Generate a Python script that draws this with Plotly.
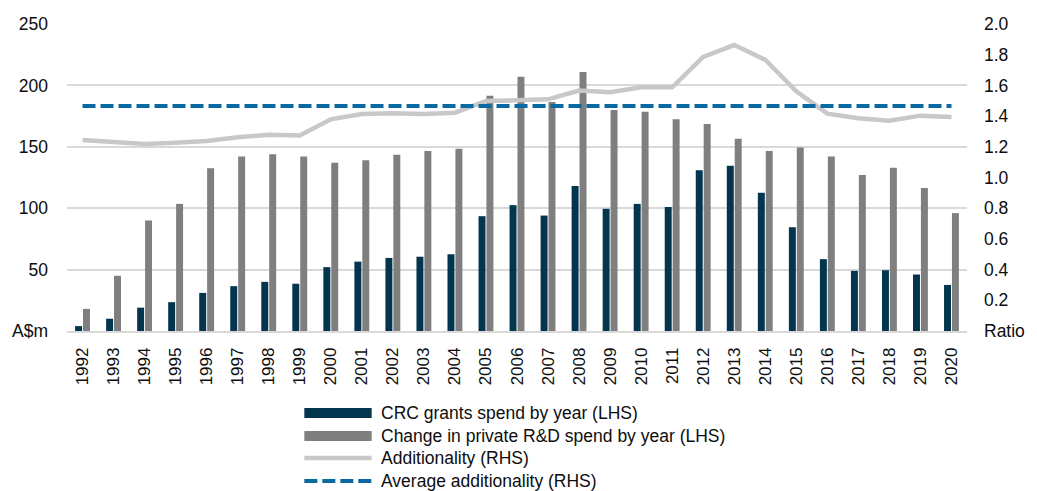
import plotly.graph_objects as go

years = [str(y) for y in range(1992, 2021)]

crc_grants = [4, 10, 19, 23.5, 31, 36.5, 40, 38.5, 52, 56.5, 59.5, 60.5, 62.5, 93.5,
              102.5, 94, 118, 99.5, 103.5, 101, 131, 134.5, 112.5, 84.5, 58.5, 49, 49.5,
              46, 37.5]
private_rd = [18, 45, 90, 103.5, 132.5, 142, 144, 142, 137, 139, 143.5, 146.5, 148.5,
              191.5, 207, 186.5, 211, 180, 178.5, 172.5, 168.5, 156.5, 146.5, 149.5, 142,
              127, 133, 116.5, 96]
additionality = [1.244, 1.231, 1.218, 1.227, 1.238, 1.262, 1.279, 1.273, 1.379, 1.414,
                 1.418, 1.414, 1.422, 1.498, 1.505, 1.509, 1.566, 1.555, 1.588, 1.588,
                 1.785, 1.863, 1.767, 1.562, 1.416, 1.386, 1.370, 1.403, 1.394]
avg_additionality = 1.466

left_ticks = [0, 50, 100, 150, 200, 250]
left_labels = ["A$m", "50", "100", "150", "200", "250"]
right_ticks = [0, 0.2, 0.4, 0.6, 0.8, 1.0, 1.2, 1.4, 1.6, 1.8, 2.0]
right_labels = ["Ratio", "0.2", "0.4", "0.6", "0.8", "1.0", "1.2", "1.4", "1.6", "1.8", "2.0"]

series_names = ["CRC grants spend by year (LHS)",
                "Change in private R&D spend by year (LHS)",
                "Additionality (RHS)",
                "Average additionality (RHS)"]

DARK = "#04354f"
GREY = "#7f7f7f"
LIGHT = "#c8c8c8"
BLUE = "#0a69a0"
FONT = "Liberation Sans, Arial, sans-serif"
TXT = "#0d0d0d"

fig = go.Figure()
fig.add_trace(go.Bar(x=years, y=crc_grants, name=series_names[0],
                     marker=dict(color=DARK, line=dict(width=0)), yaxis="y"))
fig.add_trace(go.Bar(x=years, y=private_rd, name=series_names[1],
                     marker=dict(color=GREY, line=dict(width=0)), yaxis="y"))
fig.add_trace(go.Scatter(x=years, y=additionality, name=series_names[2], mode="lines",
                         line=dict(color=LIGHT, width=4.5), yaxis="y2"))
fig.add_trace(go.Scatter(x=years, y=[avg_additionality] * len(years), name=series_names[3],
                         mode="lines", line=dict(color=BLUE, width=4, dash="13px,5px"),
                         yaxis="y2"))

# hand-built legend below the chart: swatch + label per series
legend_rows = [-0.267, -0.342, -0.414, -0.489]
x0, x1, xt = 0.2637, 0.3385, 0.347
swatches = [("bar", DARK), ("bar", GREY), ("line", LIGHT), ("dash", BLUE)]
shapes = []
annotations = []
for (kind, col), yr, name in zip(swatches, legend_rows, series_names):
    if kind == "bar":
        h = 5 / 307
        shapes.append(dict(type="rect", xref="paper", yref="paper", x0=x0, x1=x1,
                           y0=yr - h, y1=yr + h, fillcolor=col, line=dict(width=0)))
    else:
        shapes.append(dict(type="line", xref="paper", yref="paper", x0=x0, x1=x1,
                           y0=yr, y1=yr,
                           line=dict(color=col, width=4.5 if kind == "line" else 4,
                                     dash="solid" if kind == "line" else "13px,5px")))
    annotations.append(dict(text=name, xref="paper", yref="paper", x=xt, y=yr,
                            xanchor="left", yanchor="middle", showarrow=False,
                            font=dict(family=FONT, size=17.5, color=TXT)))

fig.update_layout(
    width=1037, height=491,
    margin=dict(l=67, r=60, t=24, b=160),
    paper_bgcolor="white", plot_bgcolor="white",
    barmode="group", bargap=0.49, bargroupgap=0.12,
    showlegend=False,
    font=dict(family=FONT, size=17, color=TXT),
    xaxis=dict(type="category", tickangle=-90, showgrid=False, showline=True,
               linecolor="#d9d9d9", linewidth=1.5, ticks="", ticklabelstandoff=8,
               tickfont=dict(size=17, color=TXT)),
    yaxis=dict(range=[0, 250], tickvals=left_ticks, ticktext=left_labels,
               showgrid=True, gridcolor="#d9d9d9", gridwidth=1.5, zeroline=False,
               showline=False, ticks="", ticklabelstandoff=18,
               tickfont=dict(size=17.5, color=TXT)),
    yaxis2=dict(range=[0, 2.0], tickvals=right_ticks, ticktext=right_labels,
                overlaying="y", side="right", showgrid=False, zeroline=False,
                showline=False, ticks="", ticklabelstandoff=16,
                tickfont=dict(size=17.5, color=TXT)),
    shapes=shapes,
    annotations=annotations,
)

fig.write_html("out.html")
